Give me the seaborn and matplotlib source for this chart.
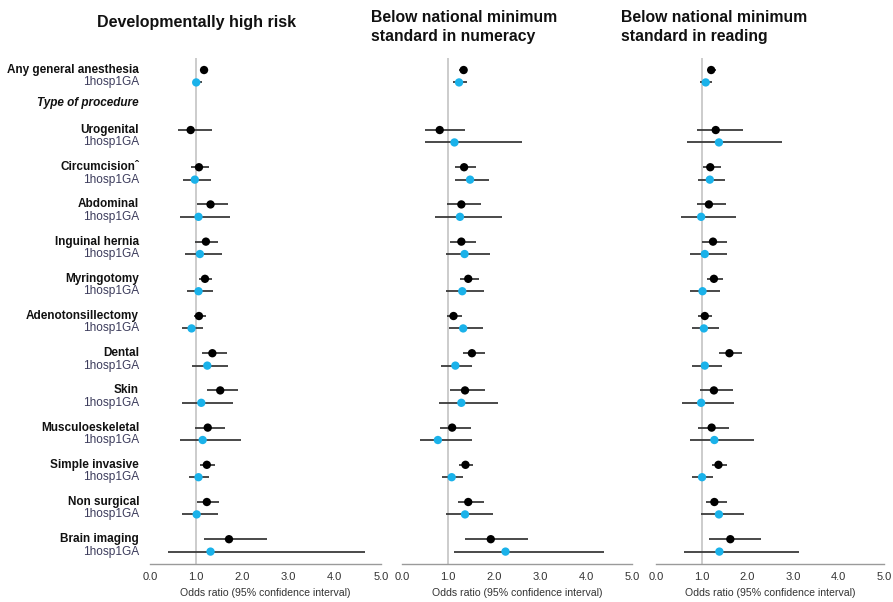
import numpy as np
import pandas as pd
import seaborn as sns
import matplotlib
matplotlib.use("Agg")
import matplotlib.pyplot as plt
from matplotlib.transforms import blended_transform_factory

sns.set_theme(style="white")
plt.rcParams['font.family'] = ['Liberation Sans', 'DejaVu Sans']

# ---------------- data ----------------
procedures = ["Urogenital", "Circumcision", "Abdominal", "Inguinal hernia", "Myringotomy",
              "Adenotonsillectomy", "Dental", "Skin", "Musculoeskeletal", "Simple invasive",
              "Non surgical", "Brain imaging"]
rows = ["Any general anesthesia"] + procedures
titles = ["Developmentally high risk",
          "Below national minimum\nstandard in numeracy",
          "Below national minimum\nstandard in reading"]
tick_labels = ["0.0", "1.0", "2.0", "3.0", "4.0", "5.0"]

# Panel 1: developmentally high risk
dev_est = [1.17, 0.88, 1.06, 1.31, 1.21, 1.19, 1.06, 1.35, 1.52, 1.25, 1.23, 1.23, 1.71]
dev_lo  = [1.10, 0.60, 0.89, 1.02, 0.98, 1.06, 0.96, 1.13, 1.23, 0.98, 1.08, 1.02, 1.17]
dev_hi  = [1.25, 1.34, 1.28, 1.68, 1.47, 1.34, 1.22, 1.67, 1.90, 1.62, 1.41, 1.49, 2.53]
dev_ga_est = [1.00, np.nan, 0.97, 1.05, 1.08, 1.05, 0.90, 1.24, 1.11, 1.14, 1.05, 1.01, 1.31]
dev_ga_lo  = [0.92, np.nan, 0.72, 0.64, 0.76, 0.81, 0.69, 0.91, 0.70, 0.66, 0.85, 0.69, 0.38]
dev_ga_hi  = [1.13, np.nan, 1.31, 1.73, 1.55, 1.36, 1.15, 1.69, 1.80, 1.96, 1.28, 1.47, 4.65]

# Panel 2: numeracy
num_est = [1.34, 0.82, 1.35, 1.29, 1.29, 1.44, 1.12, 1.52, 1.37, 1.09, 1.38, 1.44, 1.93]
num_lo  = [1.24, 0.51, 1.15, 0.98, 1.04, 1.25, 0.98, 1.32, 1.05, 0.83, 1.24, 1.21, 1.36]
num_hi  = [1.42, 1.37, 1.60, 1.71, 1.60, 1.67, 1.30, 1.80, 1.80, 1.50, 1.54, 1.78, 2.73]
num_ga_est = [1.24, 1.14, 1.48, 1.26, 1.36, 1.31, 1.33, 1.16, 1.29, 0.78, 1.08, 1.37, 2.25]
num_ga_lo  = [1.11, 0.49, 1.15, 0.72, 0.95, 0.95, 1.02, 0.85, 0.80, 0.40, 0.87, 0.95, 1.14]
num_ga_hi  = [1.42, 2.61, 1.90, 2.18, 1.92, 1.78, 1.75, 1.53, 2.09, 1.52, 1.32, 1.97, 4.40]

# Panel 3: reading
rea_est = [1.21, 1.31, 1.19, 1.16, 1.25, 1.27, 1.07, 1.61, 1.27, 1.22, 1.37, 1.28, 1.63]
rea_lo  = [1.15, 0.91, 1.04, 0.91, 1.01, 1.12, 0.93, 1.38, 0.96, 0.93, 1.23, 1.10, 1.16]
rea_hi  = [1.31, 1.91, 1.43, 1.54, 1.56, 1.47, 1.23, 1.88, 1.69, 1.61, 1.56, 1.56, 2.31]
rea_ga_est = [1.09, 1.38, 1.18, 0.99, 1.07, 1.02, 1.05, 1.07, 0.99, 1.28, 1.01, 1.38, 1.39]
rea_ga_lo  = [0.97, 0.69, 0.93, 0.55, 0.74, 0.75, 0.80, 0.80, 0.58, 0.75, 0.80, 0.99, 0.61]
rea_ga_hi  = [1.23, 2.77, 1.52, 1.75, 1.56, 1.41, 1.39, 1.45, 1.72, 2.14, 1.26, 1.93, 3.13]

panels = [
    (dev_est, dev_lo, dev_hi, dev_ga_est, dev_ga_lo, dev_ga_hi),
    (num_est, num_lo, num_hi, num_ga_est, num_ga_lo, num_ga_hi),
    (rea_est, rea_lo, rea_hi, rea_ga_est, rea_ga_lo, rea_ga_hi),
]

# ---------------- layout ----------------
W, H = 893, 602
fig = plt.figure(figsize=(W / 100, H / 100), dpi=100)

def main_pos(i):
    return 0.0 if i == 0 else 4.84 + (i - 1) * 3.0

type_pos = 2.66
ylim = (39.84, -0.97)

ax_px = [(150, 381), (402, 632), (656, 884)]
top_px, bot_px = 58, 564

BLACK = "#000000"
BLUE = "#1ab2ea"
LINEC = "#3a3a3a"

axes = []
for k, ((x0, x1), (est, lo, hi, gest, glo, ghi)) in enumerate(zip(ax_px, panels)):
    ax = fig.add_axes([x0 / W, 1 - bot_px / H, (x1 - x0) / W, (bot_px - top_px) / H])
    axes.append(ax)
    recs = []
    for i, r in enumerate(rows):
        y = main_pos(i)
        recs.append(dict(row=r, series="overall", y=y, est=est[i], lo=lo[i], hi=hi[i]))
        recs.append(dict(row=r, series="1hosp1GA", y=y + 1.0, est=gest[i], lo=glo[i], hi=ghi[i]))
    df = pd.DataFrame(recs).dropna()

    ax.axvline(1.0, color="#c8c8c8", lw=1.3, zorder=0)
    ax.hlines(df["y"], df["lo"], df["hi"], color=LINEC, lw=1.3, zorder=1)
    sns.scatterplot(data=df, x="est", y="y", hue="series",
                    palette={"overall": BLACK, "1hosp1GA": BLUE},
                    s=36, edgecolor="none", legend=False, ax=ax, zorder=3)

    ax.set_xlim(0, 5)
    ax.set_ylim(*ylim)
    ax.set_xticks(range(6))
    ax.set_xticklabels(tick_labels, fontsize=8, color="#333333")
    ax.set_yticks([])
    ax.set_ylabel("")
    ax.set_xlabel("Odds ratio (95% confidence interval)", fontsize=7.6, color="#333333", labelpad=4)
    for s in ["top", "left", "right"]:
        ax.spines[s].set_visible(False)
    ax.spines["bottom"].set_color("#9a9a9a")
    ax.spines["bottom"].set_linewidth(1.0)
    ax.tick_params(axis="x", direction="out", length=4, width=1.0, color="#9a9a9a", pad=2)
    ax.patch.set_alpha(0)

# row labels on the first panel
ax0 = axes[0]
tr = blended_transform_factory(ax0.transAxes, ax0.transData)
lx = (139 - 150) / (381 - 150)
for i, r in enumerate(rows):
    y = main_pos(i)
    label = r + "\u02c6" if r == "Circumcision" else r
    ax0.text(lx, y, label, transform=tr, ha="right", va="center", fontsize=8.5,
             fontweight="bold", color="#111111")
    ax0.text(lx, y + 1.0, "1hosp1GA", transform=tr, ha="right", va="center",
             fontsize=8.6, color="#3c3c5c")
ax0.text(lx, type_pos, "Type of procedure", transform=tr, ha="right", va="center",
         fontsize=8.5, fontweight="bold", fontstyle="italic", color="#111111")

# titles
fig.text(197 / W, 1 - 22 / H, titles[0], ha="center", va="center", fontsize=11.5,
         fontweight="bold", color="#111111")
fig.text(371 / W, 1 - 27 / H, titles[1], ha="left", va="center", fontsize=11.3,
         fontweight="bold", color="#111111", linespacing=1.3)
fig.text(621 / W, 1 - 27 / H, titles[2], ha="left", va="center", fontsize=11.3,
         fontweight="bold", color="#111111", linespacing=1.3)

fig.savefig("out.png", dpi=100, facecolor="white")
